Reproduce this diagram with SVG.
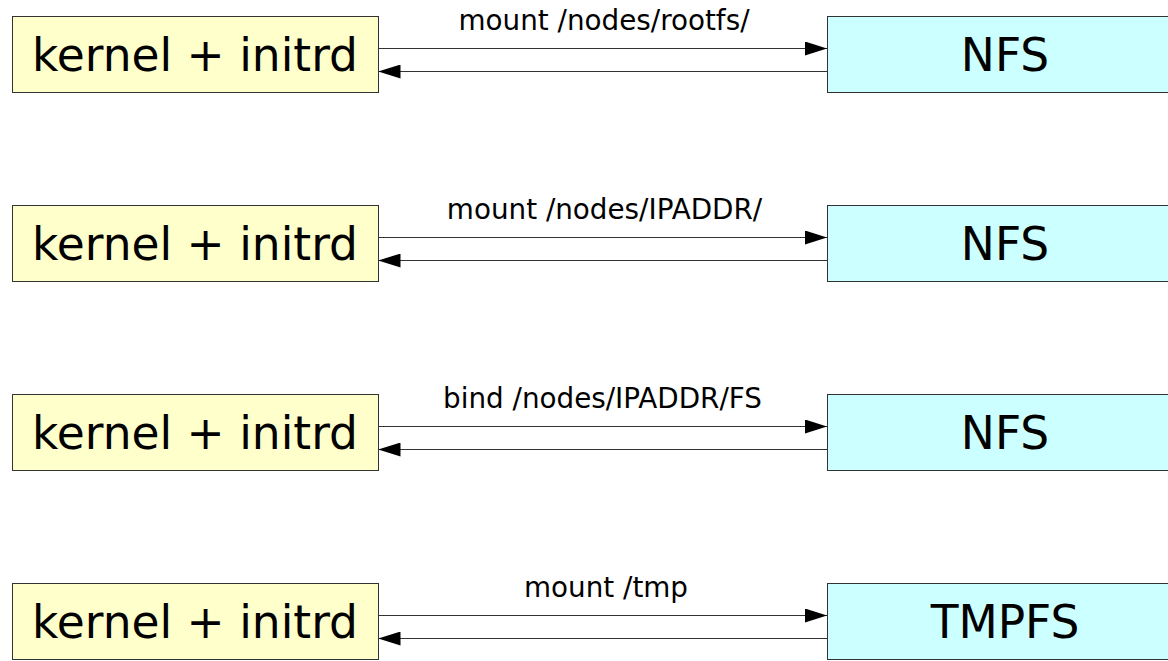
<svg xmlns="http://www.w3.org/2000/svg" width="1168" height="661" viewBox="0 0 1168 661">
<defs>
<style>
.k{fill:#ffffcc;stroke:#333;stroke-width:1}
.f{fill:#ccffff;stroke:#333;stroke-width:1}
.big{font-family:"DejaVu Sans",sans-serif;font-size:45.5px;fill:#000;text-anchor:middle}
.lbl{font-family:"DejaVu Sans",sans-serif;font-size:27.8px;fill:#000;text-anchor:middle}
.ln{stroke:#333;stroke-width:1;fill:none}
</style>
<marker id="ah" markerWidth="22" markerHeight="14" refX="22" refY="7" orient="auto" markerUnits="userSpaceOnUse">
<path d="M0,0 L22,7 L0,14 Z" fill="#000"/>
</marker>
</defs>
<g id="connectors">
<g transform="translate(0,0)">
<line class="ln" x1="378.5" y1="48.5" x2="827" y2="48.5" marker-end="url(#ah)"/>
<line class="ln" x1="827" y1="71.5" x2="378.5" y2="71.5" marker-end="url(#ah)"/>
<text class="lbl" x="604" y="29.5">mount /nodes/rootfs/</text>
</g>
<g transform="translate(0,189)">
<line class="ln" x1="378.5" y1="48.5" x2="827" y2="48.5" marker-end="url(#ah)"/>
<line class="ln" x1="827" y1="71.5" x2="378.5" y2="71.5" marker-end="url(#ah)"/>
<text class="lbl" x="604.5" y="29.5">mount /nodes/IPADDR/</text>
</g>
<g transform="translate(0,378)">
<line class="ln" x1="378.5" y1="48.5" x2="827" y2="48.5" marker-end="url(#ah)"/>
<line class="ln" x1="827" y1="71.5" x2="378.5" y2="71.5" marker-end="url(#ah)"/>
<text class="lbl" x="602.5" y="29.5">bind /nodes/IPADDR/FS</text>
</g>
<g transform="translate(0,567)">
<line class="ln" x1="378.5" y1="48.5" x2="827" y2="48.5" marker-end="url(#ah)"/>
<line class="ln" x1="827" y1="71.5" x2="378.5" y2="71.5" marker-end="url(#ah)"/>
<text class="lbl" x="606" y="29.5">mount /tmp</text>
</g>
</g>
<g id="k1"><rect class="k" x="12.5" y="16.5" width="366" height="76"/><text class="big" x="195" y="71">kernel + initrd</text></g>
<g id="n1"><rect class="f" x="827.5" y="16.5" width="360" height="76"/><text class="big" x="1005" y="71">NFS</text></g>
<g id="k2"><rect class="k" x="12.5" y="205.5" width="366" height="76"/><text class="big" x="195" y="260">kernel + initrd</text></g>
<g id="n2"><rect class="f" x="827.5" y="205.5" width="360" height="76"/><text class="big" x="1005" y="260">NFS</text></g>
<g id="k3"><rect class="k" x="12.5" y="394.5" width="366" height="76"/><text class="big" x="195" y="449">kernel + initrd</text></g>
<g id="n3"><rect class="f" x="827.5" y="394.5" width="360" height="76"/><text class="big" x="1005" y="449">NFS</text></g>
<g id="k4"><rect class="k" x="12.5" y="583.5" width="366" height="76"/><text class="big" x="195" y="638">kernel + initrd</text></g>
<g id="n4"><rect class="f" x="827.5" y="583.5" width="360" height="76"/><text class="big" x="1005" y="638">TMPFS</text></g>
</svg>
